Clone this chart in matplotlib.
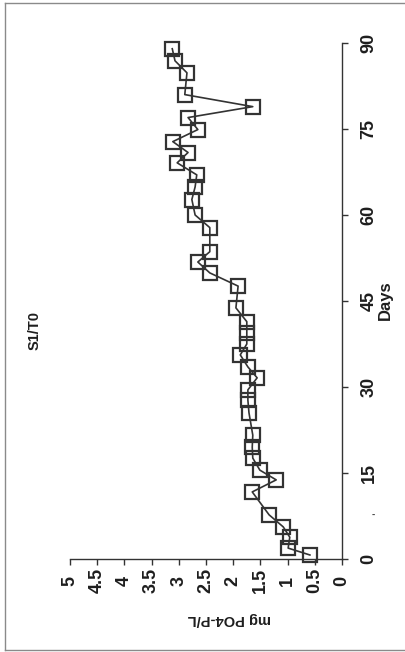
import matplotlib.pyplot as plt
import numpy as np
from matplotlib.lines import Line2D

# Sampling days and phosphate concentration (S1/T0)
days = [0.7, 1.9, 3.8, 5.6, 7.7, 11.7, 13.8, 15.5, 17.6, 19.5,
        21.6, 25.5, 27.7, 29.5, 31.6, 33.5, 35.6, 37.5, 39.4, 41.4,
        43.8, 47.6, 49.9, 51.8, 53.6, 57.8, 60.0, 62.7, 64.9, 67.0,
        69.1, 70.9, 72.8, 74.9, 77.0, 78.9, 81.0, 84.8, 86.9, 89.0]
po4 = [0.59, 0.99, 0.96, 1.08, 1.34, 1.65, 1.21, 1.51, 1.64, 1.65,
       1.64, 1.71, 1.73, 1.73, 1.56, 1.73, 1.87, 1.75, 1.75, 1.75,
       1.95, 1.91, 2.43, 2.65, 2.43, 2.43, 2.70, 2.76, 2.70, 2.67,
       3.03, 2.83, 3.11, 2.65, 2.83, 1.64, 2.89, 2.85, 3.07, 3.12]

conc_ticks = np.arange(0, 5.01, 0.5)
conc_labels = ["0", "0.5", "1", "1.5", "2", "2.5", "3", "3.5", "4", "4.5", "5"]
day_ticks = np.arange(0, 91, 15)

W, H = 405, 652
dpi = 100
plt.rcParams["font.family"] = ["Liberation Sans", "DejaVu Sans"]
plt.rcParams["font.weight"] = "bold"

fig = plt.figure(figsize=(W / dpi, H / dpi), dpi=dpi)

def fx(x):
    return x / W

def fy(y):
    return 1 - y / H

# axes box in pixel coords of the (rotated) page
left, right, top, bottom = 70, 342, 43, 559
ax = fig.add_axes([fx(left), fy(bottom), fx(right) - fx(left), fy(top) - fy(bottom)])

ink = "#333333"
ax.plot(po4, days, color=ink, linewidth=1.2, marker="s", markersize=10,
        markerfacecolor="none", markeredgecolor=ink, markeredgewidth=1.6,
        clip_on=False)

ax.set_xlim(5, 0)
ax.set_ylim(0, 90)

for side in ["top", "left"]:
    ax.spines[side].set_visible(False)
for side in ["bottom", "right"]:
    ax.spines[side].set_color(ink)
    ax.spines[side].set_linewidth(1.0)

ax.yaxis.tick_right()
ax.set_xticks(conc_ticks)
ax.set_xticklabels(conc_labels)
ax.set_yticks(day_ticks)
ax.set_yticklabels([str(d) for d in day_ticks])

ax.tick_params(axis="x", direction="out", length=4, width=1, color=ink,
               labelsize=13, pad=11.5, labelcolor="#1e1e1e")
ax.tick_params(axis="y", direction="out", length=4, width=1, color=ink,
               labelsize=13, pad=15.5, labelcolor="#1e1e1e")
for lab in ax.get_xticklabels():
    lab.set_rotation(90)
    lab.set_va("center")
for lab in ax.get_yticklabels():
    lab.set_rotation(90)
    lab.set_ha("center")
    lab.set_va("center")

# rotated texts
fig.text(fx(35), fy(331), "S1/T0", rotation=90, ha="center", va="center",
         fontsize=10.5, fontweight="bold", color="#1e1e1e")
fig.text(fx(385), fy(300), "Days", rotation=90, ha="center", va="center",
         fontsize=12, fontweight="bold", color="#1e1e1e")
fig.text(fx(229), fy(619), "mg PO4-P/L", rotation=180, ha="center", va="center",
         fontsize=10.5, fontweight="bold", color="#1e1e1e")
fig.text(fx(373), fy(515), "-", ha="center", va="center", fontsize=7, color="#444")

# page border
border = "#8a8a8a"
fig.add_artist(Line2D([fx(5), fx(5)], [fy(3), fy(650)], transform=fig.transFigure,
                      color=border, linewidth=1))
fig.add_artist(Line2D([fx(5), 1], [fy(3), fy(3)], transform=fig.transFigure,
                      color=border, linewidth=1))
fig.add_artist(Line2D([fx(5), 1], [fy(650), fy(650)], transform=fig.transFigure,
                      color=border, linewidth=1))

fig.savefig("out.png", dpi=dpi)
